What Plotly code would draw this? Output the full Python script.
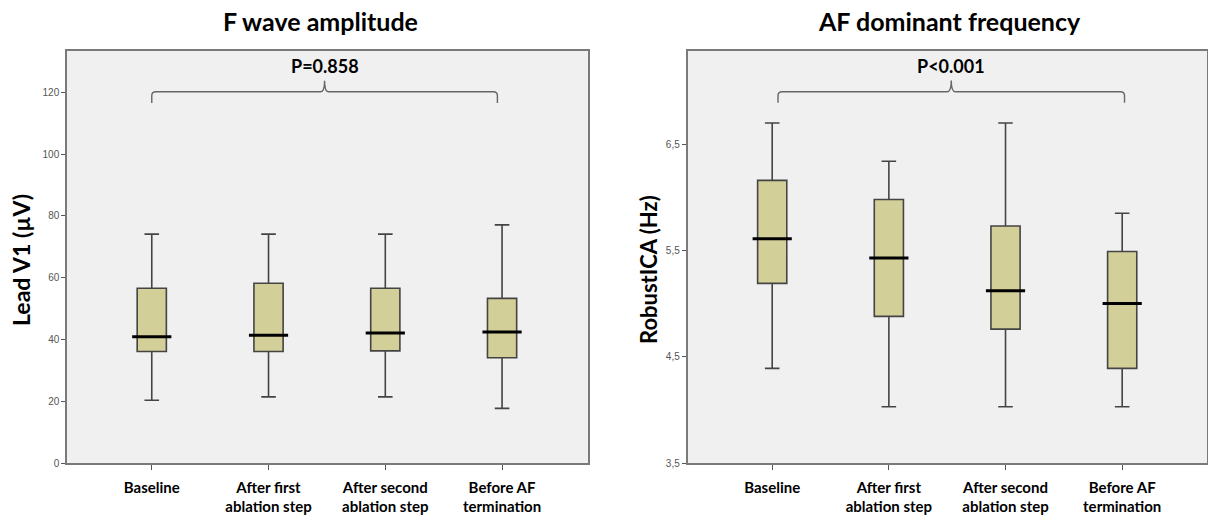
import plotly.graph_objects as go

# ---------------- data ----------------
categories = ["Baseline", "After first<br>ablation step", "After second<br>ablation step", "Before AF<br>termination"]
positions = [0, 1, 2, 3]

# F wave amplitude (Lead V1, µV)
fw_low = [20.3, 21.4, 21.4, 17.7]
fw_q1 = [36.1, 36.1, 36.3, 34.1]
fw_med = [40.9, 41.4, 42.1, 42.4]
fw_q3 = [56.6, 58.2, 56.6, 53.3]
fw_high = [74.1, 74.1, 74.1, 77.1]
fw_tickvals = [0, 20, 40, 60, 80, 100, 120]
fw_ticktext = ["0", "20", "40", "60", "80", "100", "120"]
fw_p = "P=0.858"

# AF dominant frequency (RobustICA, Hz)
df_low = [4.39, 4.03, 4.03, 4.03]
df_q1 = [5.19, 4.88, 4.76, 4.39]
df_med = [5.61, 5.43, 5.12, 5.00]
df_q3 = [6.16, 5.98, 5.73, 5.49]
df_high = [6.70, 6.34, 6.70, 5.85]
df_tickvals = [3.5, 4.5, 5.5, 6.5]
df_ticktext = ["3,5", "4,5", "5,5", "6,5"]
df_p = "P<0.001"

# ---------------- style ----------------
FONT = "Lato"
BOX_FILL = "#D3CF98"
BOX_LINE = "#444444"
FRAME = "#7a7a7a"
PLOT_BG = "#F0F0F0"
W, H = 1208, 515

fig = go.Figure()


def add_boxes(xa, ya, low, q1, med, q3, high):
    fig.add_trace(go.Box(
        x=positions, lowerfence=low, q1=q1, median=med, q3=q3, upperfence=high,
        fillcolor=BOX_FILL, line=dict(color=BOX_LINE, width=1.6),
        width=0.25, whiskerwidth=0.5, boxpoints=False, showlegend=False,
        hoverinfo="skip", xaxis=xa, yaxis=ya,
    ))
    fig.add_trace(go.Scatter(
        x=positions, y=med, mode="markers", showlegend=False, hoverinfo="skip",
        marker=dict(symbol="line-ew", size=28, line=dict(width=3, color="#000000")),
        xaxis=xa, yaxis=ya,
    ))


add_boxes("x", "y", fw_low, fw_q1, fw_med, fw_q3, fw_high)
add_boxes("x2", "y2", df_low, df_q1, df_med, df_q3, df_high)


def bracket_path(x0, x1, xm, y_line, y_end, y_peak, dx):
    dy_end = (y_line - y_end) * 0.35
    return (f"M {x0},{y_end} L {x0},{y_line - dy_end} Q {x0},{y_line} {x0 + dx},{y_line} "
            f"L {xm - dx},{y_line} Q {xm},{y_line} {xm},{y_peak} "
            f"Q {xm},{y_line} {xm + dx},{y_line} L {x1 - dx},{y_line} "
            f"Q {x1},{y_line} {x1},{y_line - dy_end} L {x1},{y_end}")


shapes = [
    dict(type="path", xref="x", yref="y",
         path=bracket_path(0.0, 2.96, 1.48, 120.2, 116.6, 123.8, 0.035),
         line=dict(color="#666666", width=1.4)),
    dict(type="path", xref="x2", yref="y2",
         path=bracket_path(0.05, 3.02, 1.535, 6.994, 6.89, 7.10, 0.035),
         line=dict(color="#666666", width=1.4)),
]

ann_common = dict(xref="paper", yref="paper", showarrow=False, xanchor="center", yanchor="middle")
annotations = [
    dict(text="<b>F wave amplitude</b>", x=320 / W, y=1 - 21 / H,
         font=dict(family=FONT, size=25, color="#000"), **ann_common),
    dict(text="<b>AF dominant frequency</b>", x=949 / W, y=1 - 21 / H,
         font=dict(family=FONT, size=25, color="#000"), **ann_common),
    dict(text="<b>Lead V1 (µV)</b>", x=21 / W, y=1 - 260 / H, textangle=-90,
         font=dict(family=FONT, size=23, color="#000"), **ann_common),
    dict(text="<b>RobustICA (Hz)</b>", x=648 / W, y=1 - 270 / H, textangle=-90,
         font=dict(family=FONT, size=22, color="#000"), **ann_common),
    dict(text=f"<b>{fw_p}</b>", x=1.48, y=128.6, xref="x", yref="y", showarrow=False,
         xanchor="center", yanchor="middle", font=dict(family=FONT, size=18, color="#000")),
    dict(text=f"<b>{df_p}</b>", x=1.53, y=7.24, xref="x2", yref="y2", showarrow=False,
         xanchor="center", yanchor="middle", font=dict(family=FONT, size=18, color="#000")),
]

xaxis_common = dict(
    tickvals=positions, ticktext=categories,
    showline=True, mirror=True, linecolor=FRAME, linewidth=1.5,
    ticks="outside", ticklen=5, tickcolor="#555", tickwidth=1.2, ticklabelstandoff=5,
    tickfont=dict(family=FONT, size=15, color="#000", weight="bold"),
    showgrid=False, zeroline=False, automargin=False, fixedrange=True,
)
yaxis_common = dict(
    showline=True, mirror=True, linecolor=FRAME, linewidth=1.5,
    ticks="outside", ticklen=4, tickcolor="#555", tickwidth=1.2,
    tickfont=dict(family="Liberation Sans", size=10, color="#555"),
    showgrid=False, zeroline=False, automargin=False, fixedrange=True,
)

y_dom = [1 - 463 / H, 1 - 51 / H]

fig.update_layout(
    width=W, height=H,
    margin=dict(l=0, r=0, t=0, b=0),
    paper_bgcolor="white", plot_bgcolor=PLOT_BG,
    xaxis=dict(domain=[67 / W, 588 / W], anchor="y", range=[-0.726, 3.736], **xaxis_common),
    yaxis=dict(domain=y_dom, anchor="x", range=[0, 133.4],
               tickvals=fw_tickvals, ticktext=fw_ticktext, **yaxis_common),
    xaxis2=dict(domain=[687.5 / W, 1207 / W], anchor="y2", range=[-0.726, 3.727], **xaxis_common),
    yaxis2=dict(domain=y_dom, anchor="x2", range=[3.5, 7.377],
                tickvals=df_tickvals, ticktext=df_ticktext, **yaxis_common),
    shapes=shapes, annotations=annotations,
)

fig.write_html("out.html", config={"displayModeBar": False})

# remove the default page margin so the figure sits at the window's top-left corner
with open("out.html", "r", encoding="utf-8") as f:
    html = f.read()
html = html.replace("<body>", '<body style="margin:0;padding:0;">', 1)
with open("out.html", "w", encoding="utf-8") as f:
    f.write(html)
